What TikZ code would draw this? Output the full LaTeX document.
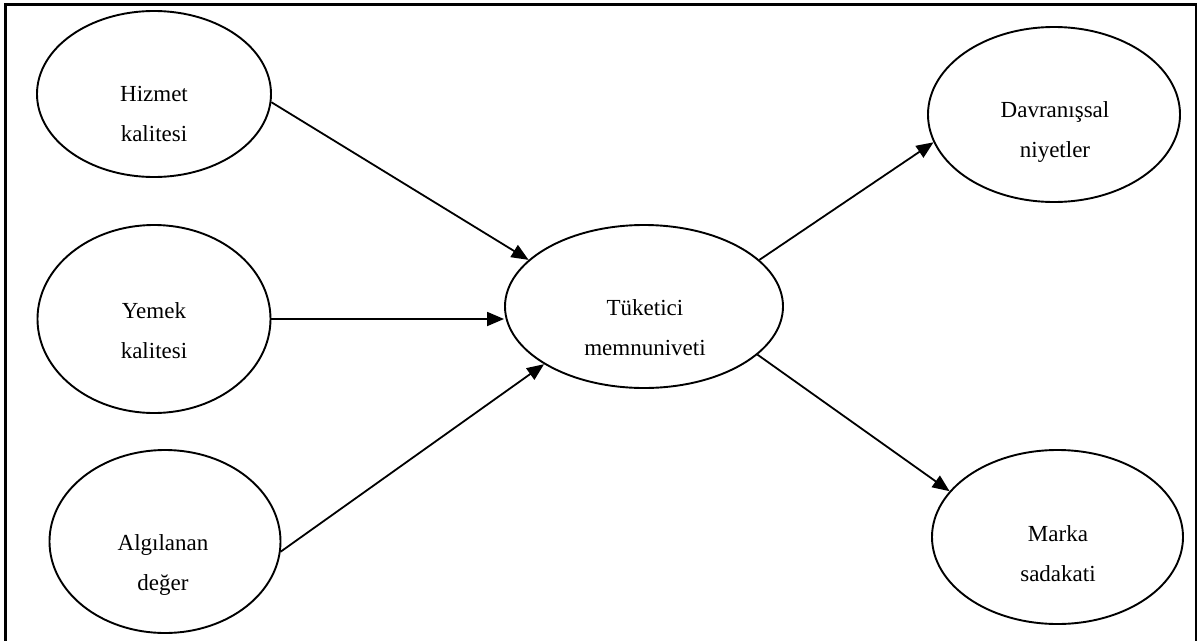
\documentclass[tikz,border=0pt]{standalone}
\usepackage{fontspec}
\setmainfont{Liberation Serif}
\usetikzlibrary{arrows.meta,shapes.geometric}
\begin{document}
\begin{tikzpicture}[x=1pt,y=-1pt,
  construct/.style={ellipse,draw,line width=1.9pt,inner sep=0pt},
  txt/.style={anchor=base,align=center,inner sep=0pt,
    font=\fontsize{23pt}{40pt}\selectfont},
  link/.style={line width=1.8pt,-{Triangle[length=17pt,width=14pt]}}]
\useasboundingbox (0,0) rectangle (1202,640);
% outer frame (its lower edge lies below the page)
\draw[line width=2.4pt] (5.5,4.5) -- (5.5,660) -- (1196,660) -- (1196,4.5) -- cycle;

% constructs
\node[construct,minimum width=234pt,minimum height=166pt] (hz) at (154,94) {};
\node[construct,minimum width=233pt,minimum height=188pt] (ym) at (154,319) {};
\node[construct,minimum width=231pt,minimum height=183pt] (al) at (165,541.5) {};
\node[construct,minimum width=278pt,minimum height=163pt] (tk) at (644,306.5) {};
\node[construct,minimum width=252pt,minimum height=175pt] (dv) at (1054,114.5) {};
\node[construct,minimum width=251pt,minimum height=174pt] (mk) at (1057.5,537) {};

% labels (anchored at the baseline of their last line)
\node[txt] (hzt) at (154,141.7) {Hizmet\\kalitesi};
\node[txt] (ymt) at (154,358) {Yemek\\kalitesi};
\node[txt] (alt) at (163,590) {Algılanan\\değer};
\node[txt] (tkt) at (645,355) {Tüketici\\memnuniveti};
\node[txt] (dvt) at (1055,157) {Davranışsal\\niyetler};
\node[txt] (mkt) at (1058,581.7) {Marka\\sadakati};

% paths
\draw[link] (hz.-4) -- (tk.158.7);
\draw[link] (ym.east) -- (ym.east -| tk.west);
\draw[link] (al.-5) -- (tk.210);
\draw[link] (tk.22) -- (dv.193);
\draw[link] (tk.-23.3) -- (mk.157.3);
\end{tikzpicture}
\end{document}
